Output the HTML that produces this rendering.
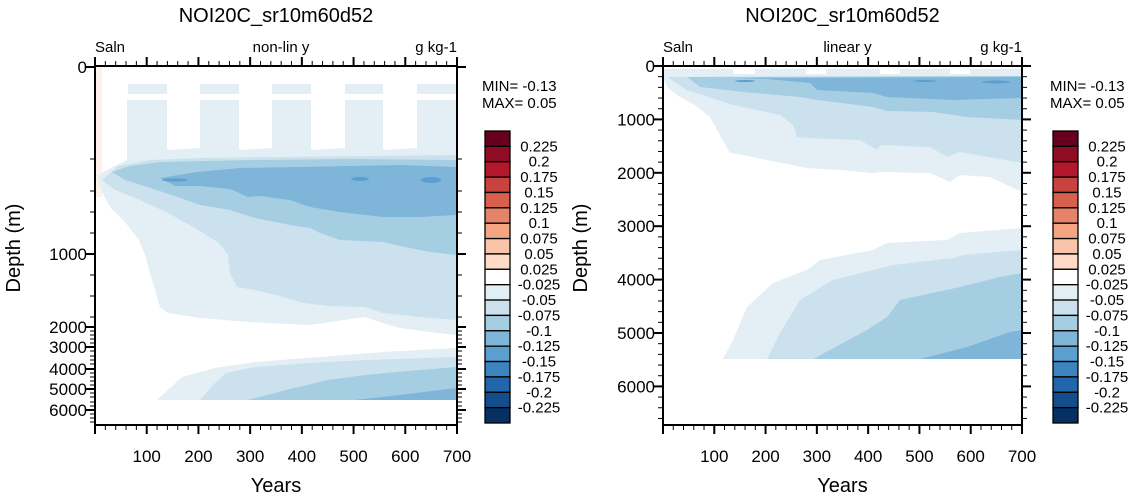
<!DOCTYPE html>
<html><head><meta charset="utf-8"><style>
html,body{margin:0;padding:0;background:#fff;}
svg{display:block;font-family:"Liberation Sans",Arial,sans-serif;}
</style></head><body>
<svg id="s" width="1132" height="496" xmlns="http://www.w3.org/2000/svg">
<g>
<rect x="96" y="67" width="6" height="130" fill="#fdeee5" opacity="0.8"/>
<g fill="#e3eef5">
<rect x="128" y="84" width="39" height="10"/><rect x="200" y="84" width="39" height="10"/>
<rect x="272" y="84" width="39" height="10"/><rect x="345" y="84" width="38" height="10"/>
<rect x="417" y="84" width="39" height="10"/>
</g>
<path fill="#e3eef5" d="M97,175 L127,160 L127,100 L167,100 L167,150 L200,148 L200,100 L239,100 L239,150 L272,148 L272,100 L311,100 L311,150 L345,148 L345,100 L383,100 L383,150 L417,148 L417,100 L456,100 L456,335 L430,332 L400,328 L383,323 L365,317 L330,322 L310,325 L250,322 L200,318 L168,313 L160,307 L155,290 L150,273 L145,255 L139,240 L125,222 L110,207 L102,192 Z"/>
<path fill="#cbe2ee" d="M102,180 L118,166 L150,160 L200,158 L456,155 L456,320 L420,317 L383,313 L365,307 L330,306 L303,303 L280,296 L255,290 L237,287 L230,273 L228,255 L219,243 L195,228 L168,213 L140,200 L115,190 Z"/>
<path fill="#a6cee3" d="M112,172 L130,166 L160,162 L250,160 L350,159 L456,160 L456,255 L430,252 L400,246 L383,242 L340,240 L320,233 L310,228 L290,225 L255,218 L230,210 L200,205 L175,196 L150,188 L125,180 Z"/>
<path fill="#7fb5d8" d="M160,178 L197,172 L240,168 L300,167 L350,166 L400,165 L456,167 L456,215 L420,217 L383,217 L340,212 L310,207 L290,200 L260,196 L248,197 L230,189 L200,186 L175,186 Z"/>
<g fill="#5a9fcf"><ellipse cx="175" cy="180" rx="13" ry="1.5"/><ellipse cx="360" cy="179" rx="9" ry="2"/><ellipse cx="431" cy="180" rx="10" ry="3"/></g>
<path fill="#e3eef5" d="M157,400 L170,388 L182,377 L215,368 L255,362 L320,357 L383,352 L456,348 L456,400 Z"/>
<path fill="#cbe2ee" d="M200,400 L213,385 L226,373 L255,367 L310,363 L365,360 L456,357 L456,400 Z"/>
<path fill="#a6cee3" d="M248,400 L290,389 L328,380 L365,375 L420,370 L456,367 L456,400 Z"/>
<path fill="#7fb5d8" d="M354,400 L400,395 L456,388 L456,400 Z"/>
</g>
<g>
<path fill="#e3eef5" d="M664,69 L1022,69 L1022,192 L990,177 L960,175 L950,182 L930,173 L880,172 L873,173 L840,170 L807,168 L767,160 L743,155 L730,153 L717,130 L710,117 L695,105 L680,97 L668,88 L664,80 Z"/>
<rect x="733" y="68" width="22" height="6" fill="#fff"/><rect x="806" y="68" width="20" height="6" fill="#fff"/><rect x="880" y="68" width="20" height="6" fill="#fff"/><rect x="950" y="68" width="20" height="6" fill="#fff"/>
<path fill="#cbe2ee" d="M667,77 L1022,76 L1022,163 L960,152 L947,157 L930,147 L880,145 L877,150 L860,140 L807,138 L797,137 L793,125 L780,115 L733,105 L687,90 Z"/>
<path fill="#a6cee3" d="M687,77 L1022,76 L1022,120 L967,117 L933,112 L887,111 L873,107 L817,100 L800,97 L743,92 L700,87 Z"/>
<path fill="#7fb5d8" d="M733,78 L1022,77 L1022,98 L953,100 L887,97 L873,93 L817,90 L810,83 L767,79 Z"/>
<g fill="#5a9fcf"><ellipse cx="996" cy="82" rx="14" ry="1.5"/><ellipse cx="925" cy="81" rx="11" ry="1"/><ellipse cx="745" cy="81" rx="10" ry="1"/></g>
<path fill="#e3eef5" d="M723,359 L733,340 L747,307 L773,283 L807,270 L820,260 L873,250 L887,243 L947,240 L960,233 L1022,228 L1022,359 Z"/>
<path fill="#cbe2ee" d="M767,359 L780,333 L800,300 L833,280 L893,265 L953,258 L963,255 L1022,250 L1022,359 Z"/>
<path fill="#a6cee3" d="M813,359 L867,330 L887,317 L900,300 L960,287 L1000,277 L1022,273 L1022,359 Z"/>
<path fill="#7fb5d8" d="M920,359 L967,347 L1010,332 L1022,330 L1022,359 Z"/>
</g>
<g id="axes" stroke="#000" fill="none"></g>
<g id="txt" fill="#000"></g>
</svg>
<script>
var ax=document.getElementById('axes'),tx=document.getElementById('txt');
function L(x1,y1,x2,y2,w){ax.innerHTML+='<line x1="'+x1+'" y1="'+y1+'" x2="'+x2+'" y2="'+y2+'" stroke-width="'+(w||1)+'"/>';}
function T(x,y,s,sz,anc,extra){tx.innerHTML+='<text x="'+x+'" y="'+y+'" font-size="'+sz+'" text-anchor="'+(anc||'middle')+'" '+(extra||'')+'>'+s+'</text>';}
var cols=['#67001f','#8f0d24','#b2182b','#c8433e','#d6604d','#e58468','#f4a582','#f9c4aa','#fddbc7','#fdeee5','#ffffff','#e3eef5','#cbe2ee','#a6cee3','#7fb5d8','#5a9fcf','#3b84bd','#2166ac','#134d8c','#053061'];
var labs=['0.225','0.2','0.175','0.15','0.125','0.1','0.075','0.05','0.025','-0.025','-0.05','-0.075','-0.1','-0.125','-0.15','-0.175','-0.2','-0.225'];
function plot(x0,x1,y0,y1,title,mid,yt,ymin,off){
  var cx=(x0+x1)/2;
  T(cx,22,title,20);
  T(x0,52,'Saln',15,'start');T(cx+5,52,mid,15);T(x1,52,'g kg-1',15,'end');
  ax.innerHTML+='<rect x="'+x0+'" y="'+y0+'" width="'+(x1-x0)+'" height="'+(y1-y0)+'" stroke-width="2"/>';
  var dx=(x1-x0)/700;
  for(var v=0;v<=700;v+=20){var x=x0+v*dx,m=v%100==0;L(x,y0,x,y0-(m?9:5),m?2:1);L(x,y1,x,y1+(m?9:5),m?2:1);
    if(m&&v>0)T(x,462,v,17);}
  yt.forEach(function(t){L(x0,t[0],x0-(t[1]?9:5),t[0],t[1]?2:1);L(x1,t[0],x1+(t[1]?9:5),t[0],t[1]?2:1);
    if(t[2]!==undefined)T(x0-8,t[0]+6,t[2],17,'end');});
  T(cx,492,'Years',20);
  T(ymin,248,'Depth (m)',20,'middle','transform="rotate(-90 '+ymin+' 248)" dy="0"');
  T(off,91,'MIN= -0.13',15,'start');T(off,108,'MAX=  0.05',15,'start');
  var bx=off+3,bt=131,bb=423,h=(bb-bt)/19;
  var idx=[0,1,2,3,4,5,6,7,8,10,11,12,13,14,15,16,17,18,19];
  for(var i=0;i<19;i++){ax.innerHTML+='<rect x="'+bx+'" y="'+(bt+i*h)+'" width="25" height="'+h+'" fill="'+cols[idx[i]]+'" stroke-width="1.3"/>';}
  for(var i=0;i<18;i++)T(bx+54,bt+(i+1)*h+5,labs[i],15);
}
var ytL=[[67,1,0],[159,0],[191,0],[212,0],[233,0],[254,1,1000],[275,0],[296,0],[317,0],[327,1,2000],[331,0],[335,0],[339,0],[343,0],[347,1,3000],[351,0],[356,0],[360,0],[364,0],[369,1,4000],[373,0],[377,0],[381,0],[385,0],[389,1,5000],[393,0],[397,0],[402,0],[406,0],[410,1,6000],[414,0],[418,0],[422,0]];
plot(95,457,66,425,'NOI20C_sr10m60d52','non-lin y',ytL,20,482);
var ytR=[];for(var d=0;d<=6700;d+=200){var y=66+d*0.0534;ytR.push(d%1000==0?[y,1,d]:[y,0]);}
plot(663,1022,66,425,'NOI20C_sr10m60d52','linear y',ytR,587,1050);
</script>
</body></html>
